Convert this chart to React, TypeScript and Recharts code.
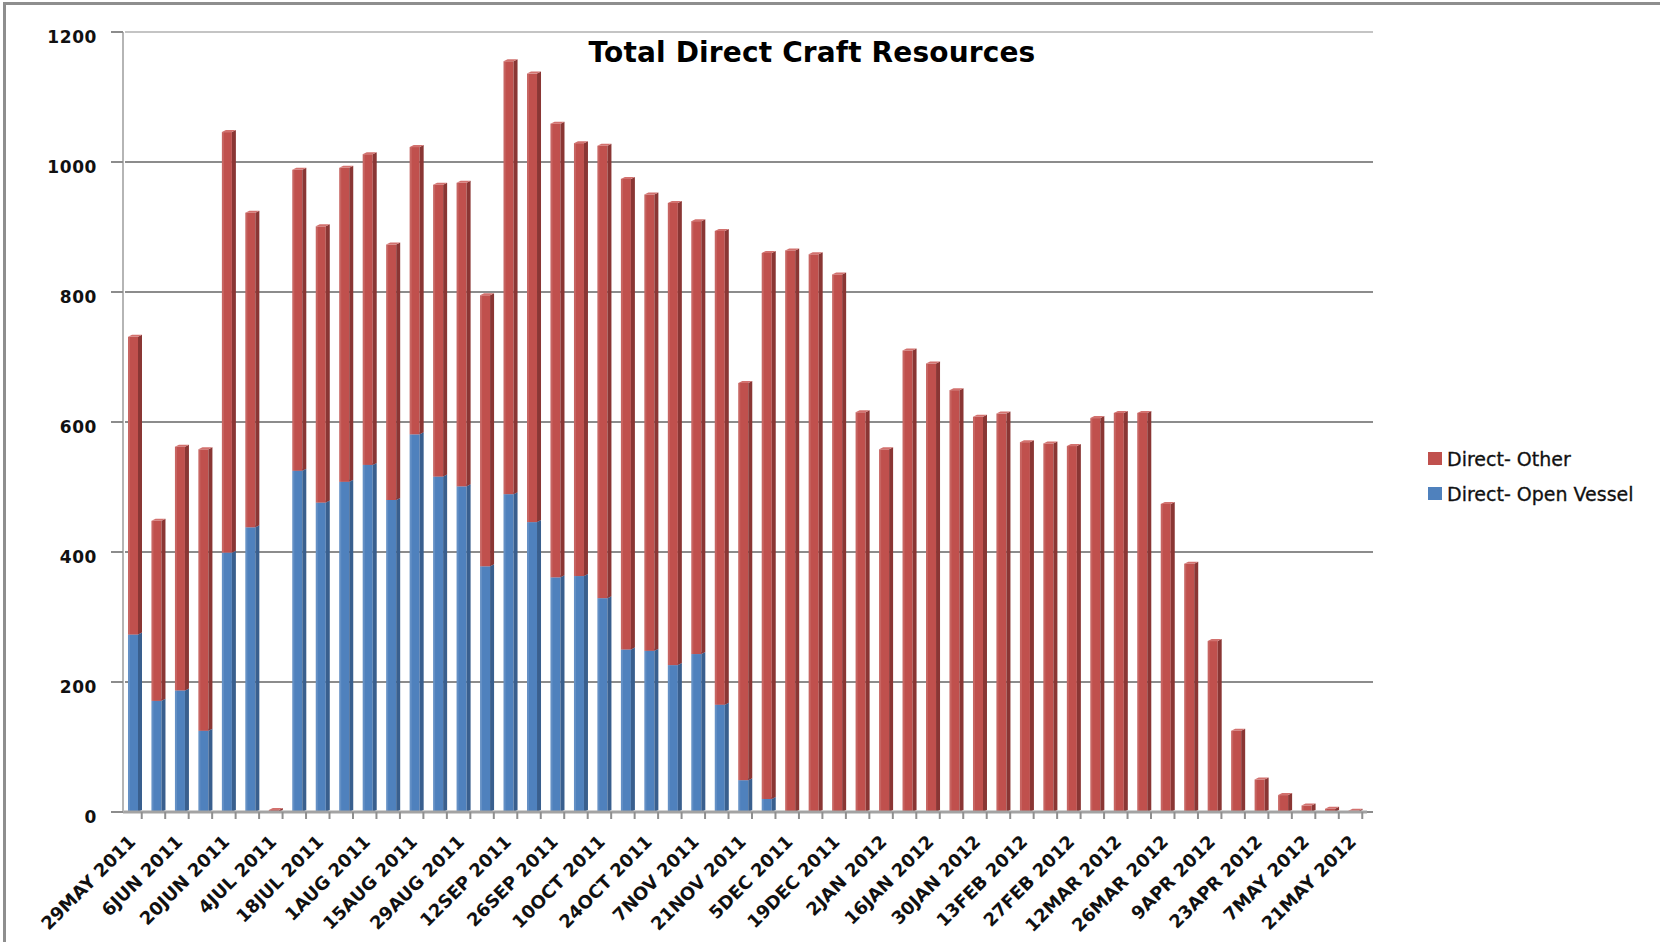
import React from 'react';
import { BarChart, Bar, XAxis, YAxis, CartesianGrid } from 'recharts';

// Weekly reporting dates (every other one is labelled on the axis)
const weeks = [
  '29MAY 2011', '30MAY 2011', '6JUN 2011', '13JUN 2011', '20JUN 2011', '27JUN 2011',
  '4JUL 2011', '11JUL 2011', '18JUL 2011', '25JUL 2011', '1AUG 2011', '8AUG 2011',
  '15AUG 2011', '22AUG 2011', '29AUG 2011', '5SEP 2011', '12SEP 2011', '19SEP 2011',
  '26SEP 2011', '3OCT 2011', '10OCT 2011', '17OCT 2011', '24OCT 2011', '31OCT 2011',
  '7NOV 2011', '14NOV 2011', '21NOV 2011', '28NOV 2011', '5DEC 2011', '12DEC 2011',
  '19DEC 2011', '26DEC 2011', '2JAN 2012', '9JAN 2012', '16JAN 2012', '23JAN 2012',
  '30JAN 2012', '6FEB 2012', '13FEB 2012', '20FEB 2012', '27FEB 2012', '5MAR 2012',
  '12MAR 2012', '19MAR 2012', '26MAR 2012', '2APR 2012', '9APR 2012', '16APR 2012',
  '23APR 2012', '30APR 2012', '7MAY 2012', '14MAY 2012', '21MAY 2012',
];

// Direct- Open Vessel headcount per week
const openVessel = [
  273, 171, 187, 125, 399, 438, 0, 525, 476, 508, 534, 480, 581, 516, 501, 378,
  489, 446, 361, 363, 329, 250, 248, 226, 243, 165, 49, 20, 0, 0, 0, 0,
  0, 0, 0, 0, 0, 0, 0, 0, 0, 0, 0, 0, 0, 0, 0, 0, 0, 0, 0, 0, 0,
];

// Direct- Other headcount per week
const other = [
  458, 277, 375, 433, 647, 484, 3, 463, 425, 483, 478, 393, 442, 449, 467, 417,
  666, 690, 698, 666, 696, 724, 702, 711, 666, 729, 611, 840, 864, 858, 827, 615,
  558, 710, 690, 649, 608, 613, 569, 567, 563, 606, 614, 614, 474, 382, 263, 125,
  50, 26, 10, 5, 2,
];

const yTicks = [0, 200, 400, 600, 800, 1000, 1200];

const chartTitle = 'Total Direct Craft Resources';
const nameOther = 'Direct- Other';
const nameOpen = 'Direct- Open Vessel';

const RED = '#C0504D';
const BLUE = '#4F81BD';

const data = weeks.map((week, i) => ({
  week,
  openVessel: openVessel[i],
  other: other[i],
}));

// Column with a shaded right face and a lighter cap for a 3-D look
const make3DBar = (front: string, side: string, top: string) => (props: any) => {
  const { x, y, width, height } = props;
  if (!height || height <= 0) return <g />;
  const depth = 4;
  const rise = 2;
  const fw = width - depth;
  return (
    <g>
      <rect x={x} y={y} width={fw} height={height} fill={front} />
      <rect x={x} y={y} width={2} height={height} fill="#ffffff" fillOpacity={0.12} />
      <polygon
        points={`${x + fw},${y + height} ${x + fw},${y} ${x + width},${y - rise} ${x + width},${y + height - rise}`}
        fill={side}
      />
      <polygon
        points={`${x},${y} ${x + fw},${y} ${x + width},${y - rise} ${x + depth},${y - rise}`}
        fill={top}
      />
    </g>
  );
};

const redShape = make3DBar(RED, '#8A3634', '#D2716E');
const blueShape = make3DBar(BLUE, '#395F8E', '#7199CB');

const labelFont = '"DejaVu Sans", "Liberation Sans", sans-serif';

// Gridlines sit on the back wall, a few pixels behind the front axis
const BackWallLine = (props: any) => {
  const { x1, x2, y1, y2 } = props;
  const isTop = y1 < 45;
  return (
    <line
      x1={x1 + 2}
      x2={x2 + 6}
      y1={y1}
      y2={y2}
      stroke={isTop ? '#c4c4c4' : '#8c8c8c'}
      strokeWidth={2}
    />
  );
};

const XTick = (props: any) => {
  const { x, y, payload } = props;
  const idx = props.index ?? payload.index;
  const tx = x + 2;
  const ty = y + 31;
  return (
    <g>
      <line x1={x + 7} y1={y} x2={x + 7} y2={y + 7} stroke="#8f8f8f" strokeWidth={2} />
      {idx % 2 === 0 && (
        <text
          x={tx}
          y={ty}
          textAnchor="end"
          transform={`rotate(-45 ${tx} ${ty})`}
          fontFamily={labelFont}
          fontWeight="bold"
          fontSize={18}
          fill="#111"
        >
          {payload.value}
        </text>
      )}
    </g>
  );
};

const YTick = (props: any) => {
  const { x, y, payload } = props;
  return (
    <text
      x={x}
      y={y + 6}
      textAnchor="end"
      dominantBaseline="middle"
      fontFamily={labelFont}
      fontWeight="bold"
      fontSize={17}
      letterSpacing={0.6}
      fill="#111"
    >
      {payload.value}
    </text>
  );
};

const legendItems = [
  { name: nameOther, color: RED },
  { name: nameOpen, color: BLUE },
];

export default function App() {
  return (
    <div
      style={{
        position: 'absolute',
        left: 0,
        top: 0,
        width: 1660,
        height: 942,
        background: '#fff',
        overflow: 'hidden',
      }}
    >
      <div
        style={{
          position: 'absolute',
          left: 3,
          top: 2,
          width: 1720,
          height: 1000,
          border: '3px solid #8e8e8e',
        }}
      />
      <div
        style={{
          position: 'absolute',
          left: 0,
          width: 1624,
          top: 35,
          textAlign: 'center',
          fontFamily: labelFont,
          fontWeight: 'bold',
          fontSize: 28,
          letterSpacing: 0.15,
          color: '#000',
          lineHeight: '36px',
        }}
      >
        {chartTitle}
      </div>
      <div style={{ position: 'absolute', left: 0, top: 0 }}>
        <BarChart
          width={1660}
          height={942}
          data={data}
          margin={{ top: 32, right: 293, bottom: 30, left: 0 }}
          barSize={14}
        >
          <CartesianGrid vertical={false} horizontal={(p: any) => <BackWallLine {...p} />} />
          <XAxis
            dataKey="week"
            interval={0}
            tickLine={false}
            tickSize={0}
            tickMargin={0}
            height={100}
            axisLine={{ stroke: '#a3a3a3', strokeWidth: 3 }}
            tick={<XTick />}
          />
          <YAxis
            domain={[0, 1200]}
            ticks={yTicks}
            width={123}
            tickSize={12}
            tickMargin={14}
            tickLine={{ stroke: '#8c8c8c', strokeWidth: 2 }}
            axisLine={{ stroke: '#b5b5b5', strokeWidth: 2 }}
            tick={<YTick />}
          />
          <Bar
            dataKey="openVessel"
            name={nameOpen}
            stackId="craft"
            fill={BLUE}
            shape={blueShape}
            isAnimationActive={false}
          />
          <Bar
            dataKey="other"
            name={nameOther}
            stackId="craft"
            fill={RED}
            shape={redShape}
            isAnimationActive={false}
          />
        </BarChart>
      </div>
      <div style={{ position: 'absolute', left: 1428, top: 441 }}>
        {legendItems.map((item) => (
          <div
            key={item.name}
            style={{
              display: 'flex',
              alignItems: 'center',
              height: 35,
              fontFamily: labelFont,
              fontSize: 19,
              color: '#111',
              WebkitTextStroke: '0.3px #111',
            }}
          >
            <span
              style={{
                display: 'inline-block',
                width: 14,
                height: 13,
                background: item.color,
                marginRight: 5,
              }}
            />
            <span>{item.name}</span>
          </div>
        ))}
      </div>
    </div>
  );
}
